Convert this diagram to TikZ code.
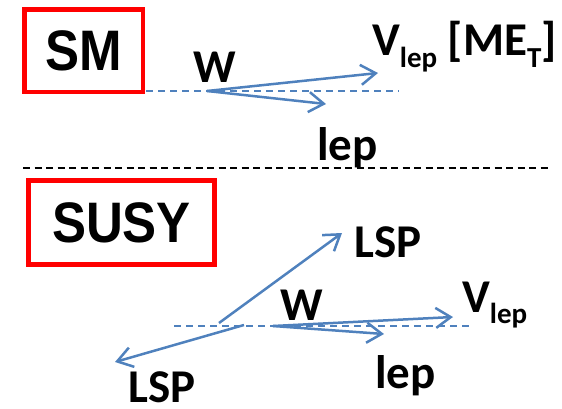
\documentclass[tikz,border=0pt]{standalone}
\usepackage{fontspec}
\setmainfont{Carlito}
\newfontfamily\headfont{Liberation Sans}
\usetikzlibrary{arrows.meta}
\definecolor{vecblue}{RGB}{79,129,189}
\definecolor{boxred}{RGB}{255,0,0}
% heading text inside the red boxes
\newcommand\headtext[1]{\scalebox{1}[1.12]{\headfont\bfseries\fontsize{51}{51}\selectfont #1}}
% lowered subscript in the smaller size
\newcommand\lowsub[2]{\raisebox{-#1pt}{\fontsize{29}{29}\selectfont #2}}
\begin{document}
\begin{tikzpicture}[x=1pt,y=-1pt,
  headbox/.style={draw=boxred,line width=4.5pt,inner sep=0pt},
  lbl/.style={inner sep=0pt,anchor=base west,font=\bfseries\fontsize{47}{47}\selectfont},
  axisline/.style={draw=vecblue,line width=1.6pt,dash pattern=on 7pt off 5pt},
  vec/.style={draw=vecblue,line width=2.5pt,-{Straight Barb[length=15pt,width=20pt]}},
  divider/.style={draw=black,line width=1.8pt,dash pattern=on 7pt off 4.5pt}]
\useasboundingbox (0,0) rectangle (562,408);

% ---------- Standard Model ----------
\node[headbox,minimum width=118.5pt,minimum height=82.5pt] (smbox) at (83.5,50.5) {\headtext{SM}};
\coordinate (smaxisL) at (146,91);
\coordinate (smaxisR) at (399,91);
\draw[axisline] (smaxisL) -- (smaxisR);
\coordinate (smW) at (207,91);
\coordinate (smnu) at (378,73);
\coordinate (smlep) at (326,104);
\draw[vec] (smW) -- (smnu);
\draw[vec] (smW) -- (smlep);
\node[lbl] (smWlabel) at (193,82) {W};
\node[lbl] (smnulabel) at (372,55) {V\lowsub{12}{lep} [ME\lowsub{12}{T}]};
\node[lbl] (smleplabel) at (317,160) {lep};

% ---------- divider ----------
\coordinate (divL) at (23,168);
\coordinate (divR) at (551,168);
\draw[divider] (divL) -- (divR);

% ---------- SUSY ----------
\node[headbox,minimum width=186pt,minimum height=84pt] (susybox) at (121.5,222.5) {\headtext{SUSY}};
\coordinate (suaxisL) at (174,326);
\coordinate (suaxisR) at (472,326);
\draw[axisline] (suaxisL) -- (suaxisR);
\coordinate (lspAstart) at (219,323);
\coordinate (lspAtip) at (342,233);
\coordinate (lspBstart) at (244,325);
\coordinate (lspBtip) at (115,362);
\draw[vec] (lspAstart) -- (lspAtip);
\draw[vec] (lspBstart) -- (lspBtip);
\coordinate (suW) at (273,326);
\coordinate (sunu) at (453,317);
\coordinate (sulep) at (384,334);
\draw[vec] (suW) -- (sunu);
\draw[vec] (suW) -- (sulep);
\node[lbl] (suWlabel) at (280,320) {W};
\node[lbl] (sunulabel) at (462,312) {V\lowsub{11}{lep}};
\node[lbl] (suleplabel) at (375,388) {lep};
\node[lbl] (lspAlabel) at (354,257) {LSP};
\node[lbl] (lspBlabel) at (128,402) {LSP};
\end{tikzpicture}
\end{document}
